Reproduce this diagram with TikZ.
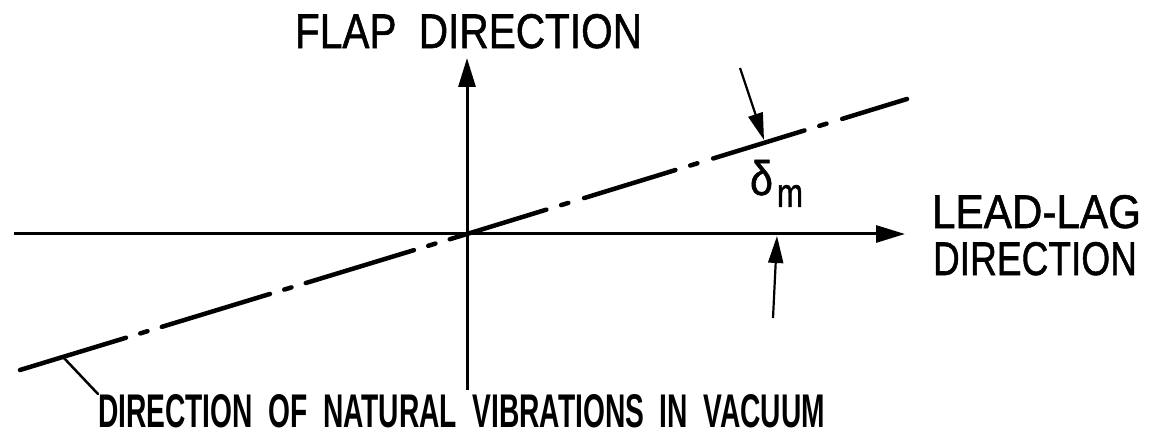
\documentclass[tikz,border=0pt]{standalone}
\usepackage{fontspec}
\usepackage{graphicx}
\setmainfont{Liberation Sans}
\newfontfamily\heavyfont{Liberation Sans}[FakeBold=1.2]
\usetikzlibrary{arrows.meta}
\newcommand{\wsp}{\hspace{0.55em}}
\begin{document}
\begin{tikzpicture}[x=1pt,y=-1pt,
  axis/.style={line width=3pt,-{Triangle[length=29pt,width=17pt]}},
  modeline/.style={line width=4.5pt,line cap=round},
  rightdash/.style={dash pattern=on 95.5pt off 15.5pt on 7.5pt off 16.5pt,dash phase=12.5pt},
  leftdash/.style={dash pattern=on 113pt off 15pt on 7.5pt off 15pt,dash phase=95pt},
  dimarrow/.style={line width=2.2pt,-{Triangle[length=27pt,width=15pt]}},
  leader/.style={line width=2.5pt,line cap=round},
  lbl/.style={inner sep=0pt,outer sep=0pt,anchor=north west,font=\heavyfont}]
\useasboundingbox (0,0) rectangle (1149,435);
% axes
\coordinate (O) at (467,234);
\coordinate (vb) at (467,390);
\coordinate (vt) at (467,58);
\coordinate (hl) at (14,234);
\coordinate (hr) at (905,234);
\draw[axis] (vb) -- (vt);
\draw[axis] (hl) -- (hr);
% direction of natural vibrations
\coordinate (lr) at (907,99);
\coordinate (ll) at (20,370);
\draw[modeline,rightdash] (O) -- (lr);
\draw[modeline,leftdash] (O) -- (ll);
% angle arrows
\coordinate (ua) at (740,68);
\coordinate (ub) at (764,140);
\draw[dimarrow] (ua) -- (ub);
\coordinate (la) at (773,318);
\coordinate (lb) at (777,236);
\draw[dimarrow] (la) -- (lb);
% labels
\node[lbl] (flap) at (295,14) {\resizebox{347pt}{34pt}{FLAP\wsp DIRECTION}};
\node[lbl] (leadlag) at (932,195) {\resizebox{209pt}{33pt}{LEAD-LAG}};
\node[lbl] (leaddir) at (933,242) {\resizebox{204pt}{33pt}{DIRECTION}};
\node[lbl] (delta) at (750,160) {\resizebox{23pt}{35pt}{δ}\hspace{4pt}\raisebox{-12pt}{\resizebox{26pt}{22pt}{m}}};
\node[lbl,font=\normalfont] (natural) at (98,394) {\resizebox{727pt}{33pt}{\bfseries DIRECTION\wsp OF\wsp NATURAL\wsp VIBRATIONS\wsp IN\wsp VACUUM}};
% leader
\coordinate (lp) at (63,357);
\draw[leader] (lp) -- (natural.north west);
\end{tikzpicture}
\end{document}
